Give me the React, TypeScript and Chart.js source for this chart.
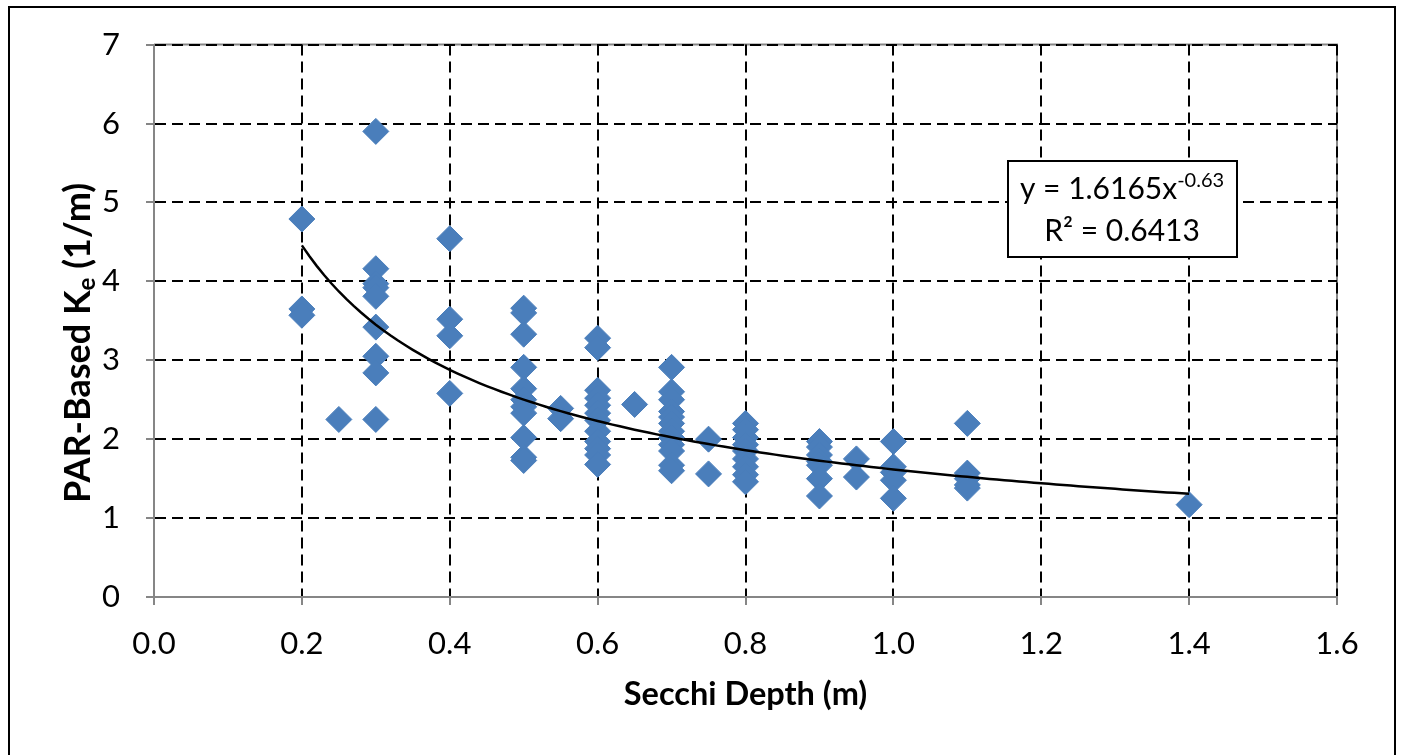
import React, { useEffect, useRef } from "react";
import { Chart, registerables } from "chart.js";

Chart.register(...registerables);

// Secchi depth (m) for each measurement
const secchiDepth: number[] = [
  0.2, 0.2, 0.2,
  0.25,
  0.3, 0.3, 0.3, 0.3, 0.3, 0.3, 0.3, 0.3, 0.3,
  0.4, 0.4, 0.4, 0.4,
  0.5, 0.5, 0.5, 0.5, 0.5, 0.5, 0.5, 0.5, 0.5, 0.5, 0.5,
  0.55, 0.55,
  0.6, 0.6, 0.6, 0.6, 0.6, 0.6, 0.6, 0.6, 0.6, 0.6, 0.6, 0.6,
  0.65,
  0.7, 0.7, 0.7, 0.7, 0.7, 0.7, 0.7, 0.7, 0.7, 0.7, 0.7, 0.7,
  0.75, 0.75,
  0.8, 0.8, 0.8, 0.8, 0.8, 0.8, 0.8, 0.8, 0.8,
  0.9, 0.9, 0.9, 0.9, 0.9, 0.9, 0.9,
  0.95, 0.95,
  1.0, 1.0, 1.0, 1.0, 1.0,
  1.1, 1.1, 1.1, 1.1, 1.1,
  1.4,
];

// PAR-based Ke (1/m), paired with secchiDepth
const keValues: number[] = [
  4.79, 3.65, 3.57,
  2.25,
  5.9, 4.16, 3.97, 3.92, 3.81, 3.42, 3.05, 2.84, 2.25,
  4.54, 3.52, 3.31, 2.58,
  3.66, 3.6, 3.33, 2.91, 2.64, 2.5, 2.41, 2.33, 2.02, 1.77, 1.73,
  2.39, 2.26,
  3.28, 3.16, 2.62, 2.52, 2.43, 2.33, 2.24, 2.1, 1.97, 1.88, 1.8, 1.68,
  2.44,
  2.91, 2.6, 2.5, 2.35, 2.28, 2.2, 2.1, 2.02, 1.93, 1.85, 1.67, 1.6,
  2.0, 1.56,
  2.2, 2.12, 2.02, 1.93, 1.85, 1.75, 1.65, 1.55, 1.46,
  1.97, 1.9, 1.8, 1.72, 1.67, 1.5, 1.28,
  1.75, 1.52,
  1.97, 1.65, 1.58, 1.48, 1.25,
  2.2, 1.57, 1.5, 1.42, 1.38,
  1.17,
];

// Power trendline shown on the chart: y = 1.6165 x^-0.63
const TREND_A = 1.6165;
const TREND_B = -0.63;
const trendXStart = 0.2;
const trendXEnd = 1.4;
const trendLabel = "y = 1.6165x";
const trendExponentLabel = "-0.63";
const rSquaredLabel = "R² = 0.6413";

const xTitle = "Secchi Depth (m)";
const yTitleMain = "PAR-Based K";
const yTitleSub = "e";
const yTitleTail = " (1/m)";

const FONT = "Lato, 'Open Sans', sans-serif";

export default function App() {
  const canvasRef = useRef<HTMLCanvasElement | null>(null);

  useEffect(() => {
    if (!canvasRef.current) return;

    const scatterData = secchiDepth.map((x, i) => ({ x, y: keValues[i] }));
    const trendData: { x: number; y: number }[] = [];
    const steps = 120;
    for (let i = 0; i <= steps; i++) {
      const x = trendXStart + ((trendXEnd - trendXStart) * i) / steps;
      trendData.push({ x, y: TREND_A * Math.pow(x, TREND_B) });
    }

    const decorPlugin = {
      id: "decor",
      beforeDraw(chart: any) {
        const { ctx, chartArea } = chart;
        ctx.save();
        ctx.strokeStyle = "#868686";
        ctx.lineWidth = 2;
        ctx.beginPath();
        ctx.moveTo(chartArea.left, chartArea.top);
        ctx.lineTo(chartArea.right, chartArea.top);
        ctx.lineTo(chartArea.right, chartArea.bottom);
        ctx.stroke();
        ctx.restore();
      },
      afterDraw(chart: any) {
        const { ctx, chartArea } = chart;
        ctx.save();
        // outer frame
        ctx.strokeStyle = "#000";
        ctx.lineWidth = 2;
        ctx.strokeRect(9, 7, 1386, 800);

        // x title
        ctx.fillStyle = "#000";
        ctx.font = `bold 32.5px ${FONT}`;
        ctx.textAlign = "center";
        ctx.textBaseline = "middle";
        ctx.fillText(xTitle, (chartArea.left + chartArea.right) / 2, 695);

        // y title with subscript
        ctx.save();
        ctx.translate(77, 343);
        ctx.rotate(-Math.PI / 2);
        ctx.textAlign = "left";
        ctx.textBaseline = "alphabetic";
        const mainFont = `bold 36px ${FONT}`;
        const subFont = `bold 24px ${FONT}`;
        ctx.font = mainFont;
        const w1 = ctx.measureText(yTitleMain).width;
        const w3 = ctx.measureText(yTitleTail).width;
        ctx.font = subFont;
        const w2 = ctx.measureText(yTitleSub).width;
        const total = w1 + w2 + w3;
        const x0 = -total / 2;
        ctx.font = mainFont;
        ctx.fillText(yTitleMain, x0, 13);
        ctx.font = subFont;
        ctx.fillText(yTitleSub, x0 + w1, 18);
        ctx.font = mainFont;
        ctx.fillText(yTitleTail, x0 + w1 + w2, 13);
        ctx.restore();

        // trendline label box
        ctx.fillStyle = "#fff";
        ctx.fillRect(1008, 161, 229, 96);
        ctx.strokeStyle = "#000";
        ctx.lineWidth = 2;
        ctx.strokeRect(1008, 161, 229, 96);
        ctx.fillStyle = "#000";
        ctx.textAlign = "left";
        ctx.textBaseline = "alphabetic";
        const lblFont = `30px ${FONT}`;
        const supFont = `20px ${FONT}`;
        ctx.font = lblFont;
        const lw1 = ctx.measureText(trendLabel).width;
        ctx.font = supFont;
        const lw2 = ctx.measureText(trendExponentLabel).width;
        const cx = 1122;
        const sx = cx - (lw1 + lw2) / 2;
        ctx.font = lblFont;
        ctx.fillText(trendLabel, sx, 199);
        ctx.font = supFont;
        ctx.fillText(trendExponentLabel, sx + lw1, 187);
        ctx.font = lblFont;
        ctx.textAlign = "center";
        ctx.fillText(rSquaredLabel, cx, 241);
        ctx.restore();
      },
    };

    const gridColor = (c: any) =>
      c.tick && c.tick.value === 0 ? "rgba(0,0,0,0)" : "#000";

    const chart = new Chart(canvasRef.current, {
      type: "scatter",
      data: {
        datasets: [
          {
            label: "Trend",
            data: trendData,
            showLine: true,
            borderColor: "#000",
            borderWidth: 2.5,
            pointRadius: 0,
            fill: false,
            order: 0,
          } as any,
          {
            label: "Ke",
            data: scatterData,
            pointStyle: "rectRot",
            pointRadius: 13,
            pointBackgroundColor: "#4A7EBB",
            pointBorderColor: "#4A7EBB",
            pointBorderWidth: 1,
            order: 1,
          } as any,
        ],
      },
      options: {
        animation: false,
        responsive: true,
        maintainAspectRatio: false,
        events: [],
        layout: { padding: { left: 0, top: 44, right: 64, bottom: 0 } },
        plugins: {
          legend: { display: false },
          tooltip: { enabled: false },
        },
        scales: {
          x: {
            type: "linear",
            min: 0,
            max: 1.6,
            afterFit: (s: any) => {
              s.height = 158;
            },
            ticks: {
              stepSize: 0.2,
              callback: (v: any) => Number(v).toFixed(1),
              font: { family: FONT, size: 31 },
              color: "#000",
              padding: 20,
              maxRotation: 0,
              autoSkip: false,
            },
            grid: {
              color: gridColor,
              lineWidth: 2,
              tickLength: 8,
              tickColor: "#868686",
              tickWidth: 2,
              tickBorderDash: [],
            },
            border: { color: "#868686", width: 2, dash: [11, 6] },
          },
          y: {
            type: "linear",
            min: 0,
            max: 7,
            afterFit: (s: any) => {
              s.width = 154;
            },
            ticks: {
              stepSize: 1,
              font: { family: FONT, size: 31 },
              color: "#000",
              padding: 26,
              autoSkip: false,
            },
            grid: {
              color: gridColor,
              lineWidth: 2,
              tickLength: 8,
              tickColor: "#868686",
              tickWidth: 2,
              tickBorderDash: [],
            },
            border: { color: "#868686", width: 2, dash: [11, 6] },
          },
        },
      } as any,
      plugins: [decorPlugin],
    });

    return () => chart.destroy();
  }, []);

  return (
    <div
      style={{
        position: "absolute",
        left: 0,
        top: 0,
        width: 1401,
        height: 755,
        background: "#fff",
      }}
    >
      <canvas ref={canvasRef} />
    </div>
  );
}
